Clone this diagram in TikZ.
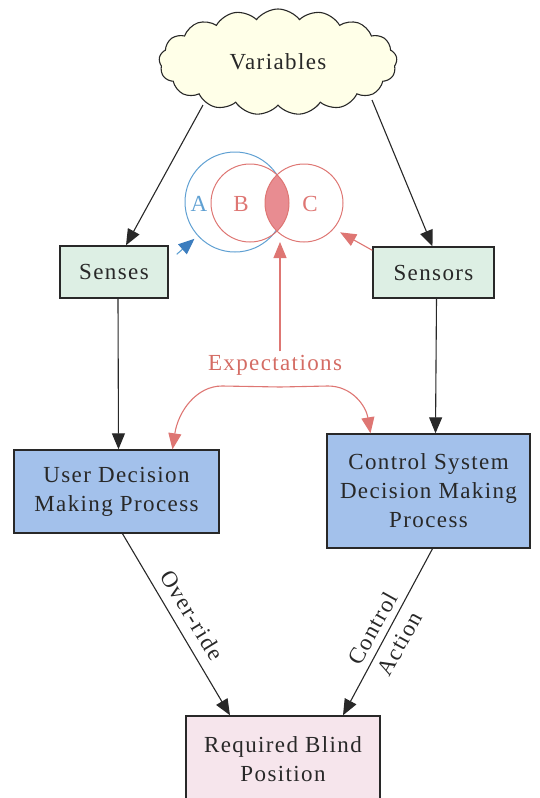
\documentclass[tikz,border=0pt]{standalone}
\usepackage{fontspec}
\setmainfont{Liberation Serif}[LetterSpace=6]
\usetikzlibrary{arrows.meta,shapes.symbols,calc}

\definecolor{inkc}{RGB}{40,40,40}
\definecolor{cloudfill}{RGB}{255,255,232}
\definecolor{greenfill}{RGB}{221,239,228}
\definecolor{bluefill}{RGB}{163,193,235}
\definecolor{pinkfill}{RGB}{246,229,236}
\definecolor{vennblue}{RGB}{95,160,210}
\definecolor{tipblue}{RGB}{60,125,190}
\definecolor{vennred}{RGB}{222,118,115}
\definecolor{lensfill}{RGB}{232,140,145}
\definecolor{textred}{RGB}{212,108,100}

\tikzset{
  x=1pt, y=1pt,
  every node/.style={font=\fontsize{23}{29}\selectfont, text=inkc},
  box/.style={draw=inkc, line width=1.4pt, rectangle, align=center, inner sep=0pt},
  arr/.style={draw=inkc, line width=1.1pt, -{Triangle[length=16pt,width=13pt]}},
  redarr/.style={draw=vennred, line width=1.1pt, -{Triangle[length=16pt,width=13pt,fill=vennred]}},
  bluearr/.style={draw=vennblue, line width=1.1pt, -{Triangle[length=16pt,width=13pt,color=tipblue]}},
  venn/.style={circle, line width=1pt, inner sep=0pt, minimum size=#1},
}

\begin{document}
\begin{tikzpicture}
\useasboundingbox (0,0) rectangle (539,-798);
\clip (0,0) rectangle (539,-798);

% cloud of variables
\node[cloud, cloud puffs=17, cloud puff arc=105, aspect=2.3,
      draw=inkc, line width=1.1pt, fill=cloudfill,
      minimum width=238pt, minimum height=106pt] (vars) at (278,-62) {Variables};

% boxes
\node[box, fill=greenfill, minimum width=108pt, minimum height=52pt] (senses) at (114,-272) {Senses};
\node[box, fill=greenfill, minimum width=121pt, minimum height=51pt] (sensors) at (433.5,-272.5) {Sensors};
\node[box, fill=bluefill, minimum width=205pt, minimum height=83pt] (user) at (116.5,-491.5) {User Decision\\Making Process};
\node[box, fill=bluefill, minimum width=203pt, minimum height=114pt] (ctrl) at (428.5,-491) {Control System\\Decision Making\\Process};
\node[box, fill=pinkfill, minimum width=194pt, minimum height=86pt] (req) at (283,-759) {Required Blind\\Position};

% Venn circles
\node[venn=100pt, draw=vennblue] (A) at (235,-202) {};
\begin{scope}
  \clip (250,-203) circle (39);
  \fill[lensfill] (304,-203) circle (39);
\end{scope}
\node[venn=78pt, draw=vennred] (B) at (250,-203) {};
\node[venn=78pt, draw=vennred] (C) at (304,-203) {};
\node[text=vennblue] (la) at (199,-204) {A};
\node[text=vennred] (lb) at (241,-204) {B};
\node[text=vennred] (lc) at (310,-204) {C};

% expectations
\node[text=textred] (exp) at (275,-365) {Expectations};
\coordinate (lensbot) at (280,-242);
\coordinate (fork) at (280,-387);

% black flow arrows
\draw[arr] ([shift={(-75,-43)}]vars.center) -- ([xshift=12pt]senses.north);
\draw[arr] ([shift={(94,-38)}]vars.center) -- ([xshift=-1pt]sensors.north);
\draw[arr] ([xshift=4pt]senses.south) -- ([xshift=2pt]user.north);
\draw[arr] ([xshift=3pt]sensors.south) -- ([xshift=7pt]ctrl.north);
\draw[arr] ([xshift=6pt]user.south) -- ([xshift=-53pt]req.north);
\draw[arr] ([xshift=4pt]ctrl.south) -- ([xshift=60pt]req.north);

% coloured arrows into the Venn diagram
\draw[bluearr] ([shift={(8,-9)}]senses.north east) -- ([shift={(-3,-3)}]A.222);
\draw[redarr] ([yshift=-4pt]sensors.north west) -- ([shift={(5,-5)}]C.-38);
\draw[redarr] ([xshift=5pt]exp.north) -- (lensbot);

% expectations fork
\draw[redarr] (fork) -- (222,-386) .. controls (196,-386) and (178,-412) .. ([xshift=56pt]user.north);
\draw[redarr] (fork) -- (328,-386) .. controls (352,-386) and (366,-406) .. ([xshift=-58pt]ctrl.north);

% connector labels
\node[rotate=-58.5] (ovr) at (192,-615) {Over-ride};
\node[rotate=61, align=center, font=\fontsize{23}{31}\selectfont] (cact) at (386,-636) {Control\\Action};
\end{tikzpicture}
\end{document}
